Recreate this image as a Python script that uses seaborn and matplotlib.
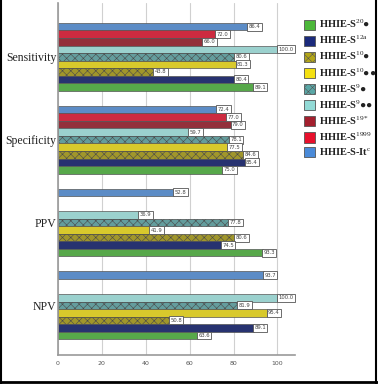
import matplotlib
matplotlib.use("Agg")
import matplotlib.pyplot as plt
import seaborn as sns
import numpy as np
import pandas as pd
from matplotlib.patches import Patch
from matplotlib.lines import Line2D

categories = ["Sensitivity", "Specificity", "PPV", "NPV"]
# series listed top-to-bottom within each group
series = ["HHIE-S-It", "HHIE-S1999", "HHIE-S19", "HHIE-S9bb", "HHIE-S9b",
          "HHIE-S10bb", "HHIE-S10b", "HHIE-S12", "HHIE-S20"]
legend_labels = {
    "HHIE-S20": "HHIE-S$^{20}$●",
    "HHIE-S12": "HHIE-S$^{12a}$",
    "HHIE-S10b": "HHIE-S$^{10}$●",
    "HHIE-S10bb": "HHIE-S$^{10}$●●",
    "HHIE-S9b": "HHIE-S$^{9}$●",
    "HHIE-S9bb": "HHIE-S$^{9}$●●",
    "HHIE-S19": "HHIE-S$^{19*}$",
    "HHIE-S1999": "HHIE-S$^{1999}$",
    "HHIE-S-It": "HHIE-S-It$^{c}$",
}
vals_It = [86.4, 72.4, 52.8, 93.7]
vals_1999 = [72.0, 77.0, np.nan, np.nan]
vals_19 = [66.0, 79.0, np.nan, np.nan]
vals_9bb = [100.0, 59.7, 36.9, 100.0]
vals_9b = [80.6, 78.1, 77.8, 81.9]
vals_10bb = [81.3, 77.5, 41.9, 95.4]
vals_10b = [43.8, 84.6, 80.6, 50.8]
vals_12 = [80.4, 85.4, 74.5, 89.1]
vals_20 = [89.1, 75.0, 93.3, 63.6]
all_vals = [vals_It, vals_1999, vals_19, vals_9bb, vals_9b, vals_10bb, vals_10b, vals_12, vals_20]

colors = {
    "HHIE-S-It": "#4a8ad8",
    "HHIE-S1999": "#e8102c",
    "HHIE-S19": "#a31f2e",
    "HHIE-S9bb": "#92dad6",
    "HHIE-S9b": "#5aa7a6",
    "HHIE-S10bb": "#f4e010",
    "HHIE-S10b": "#b3a618",
    "HHIE-S12": "#1b2a7c",
    "HHIE-S20": "#4cb83a",
}
hatches = {"HHIE-S9b": "xxxx", "HHIE-S10b": "xxxx"}

rows = []
for s, v in zip(series, all_vals):
    for c, x in zip(categories, v):
        rows.append({"cat": c, "series": s, "value": x})
df = pd.DataFrame(rows)

sns.set_style("white")
plt.rcParams["mathtext.fontset"] = "custom"
plt.rcParams["mathtext.rm"] = "Liberation Serif"
plt.rcParams["mathtext.it"] = "Liberation Serif"
plt.rcParams["mathtext.bf"] = "Liberation Serif:bold"
plt.rcParams["hatch.linewidth"] = 0.4

fig = plt.figure(figsize=(3.78, 3.84), dpi=100)
ax = fig.add_axes([58/378, 1-355/384, 237/378, 352/384])

sns.barplot(data=df, y="cat", x="value", hue="series", order=categories,
            hue_order=series, palette=colors, orient="h", width=0.82,
            dodge=True, ax=ax, legend=False, edgecolor="#555555", linewidth=0.5,
            errorbar=None)

for container, s in zip(ax.containers, series):
    for bar in container:
        if s in hatches:
            bar.set_hatch(hatches[s])
            bar.set_edgecolor("#4a4a4a")
    labels = ["" if np.isnan(w) else f"{w:.1f}" for w in container.datavalues]
    ax.bar_label(container, labels=labels, padding=0.5, fontsize=3.8, color="#444444",
                 bbox=dict(boxstyle="square,pad=0.28", fc="white", ec="#555555", lw=0.6))

ax.set_xlim(0, 108)
ax.set_ylim(3.6, -0.65)
ax.set_xticks([0, 20, 40, 60, 80, 100])
ax.set_xticklabels(["0", "20", "40", "60", "80", "100"], fontsize=4.5, color="#555555")
ax.set_yticks(range(4))
ax.set_yticklabels(categories, fontsize=8.5, family="Liberation Serif", color="#222222")
ax.set_xlabel("")
ax.set_ylabel("")
ax.grid(axis="x", color="#d0d0d0", lw=0.8)
ax.set_axisbelow(True)
for sp in ["top", "right"]:
    ax.spines[sp].set_visible(False)
for sp in ["left", "bottom"]:
    ax.spines[sp].set_color("#999999")
    ax.spines[sp].set_linewidth(1.2)
ax.tick_params(axis="y", length=0, pad=1)
ax.tick_params(axis="x", length=0, pad=4)

handles = []
for s in series[::-1]:
    handles.append(Patch(facecolor=colors[s], edgecolor="#555555", lw=0.6,
                         hatch=hatches.get(s, None), label=legend_labels[s]))
leg = fig.legend(handles=handles, loc="upper left", bbox_to_anchor=(304/378, 1-18/384),
                 frameon=False, prop={"family": ["Liberation Serif", "DejaVu Sans"], "size": 7.5, "weight": "bold"},
                 handlelength=1.1, handleheight=1.2, labelspacing=0.35, handletextpad=0.35,
                 borderaxespad=0, borderpad=0)
for t in leg.get_texts():
    t.set_color("#222222")

# figure border
fig.add_artist(Line2D([0.002, 0.002], [0, 1], transform=fig.transFigure, color="black", lw=1.5))
fig.add_artist(Line2D([376/378, 376/378], [0, 1], transform=fig.transFigure, color="black", lw=1.5))
fig.add_artist(Line2D([0, 1], [1-382/384, 1-382/384], transform=fig.transFigure, color="black", lw=2))

fig.savefig("out.png", dpi=100)
